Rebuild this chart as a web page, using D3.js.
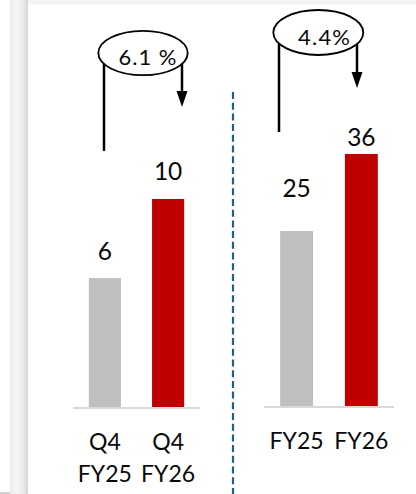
<!DOCTYPE html>
<html>
<head>
<meta charset="utf-8">
<script src="https://cdn.jsdelivr.net/npm/d3@7"></script>
<style>
  html, body { margin: 0; padding: 0; background: #ffffff; }
  svg { display: block; }
  text { font-family: Lato, "Open Sans", sans-serif; fill: #0a0a0a; }
</style>
</head>
<body>
<svg id="chart" width="416" height="494"></svg>
<script>
// ---------- data ----------
const quarterCategories = [["Q4", "FY25"], ["Q4", "FY26"]];
const quarterValues = [6.2, 10.0];
const quarterGrowth = "6.1 %";

const yearCategories = [["FY25"], ["FY26"]];
const yearValues = [25, 36];
const yearGrowth = "4.4%";

const barColors = ["#bfbfbf", "#c00000"];

// ---------- layout ----------
const W = 416, H = 494;
const svg = d3.select("#chart");
const fmt = d3.format(".0f");

// frame decorations
const defs = svg.append("defs");
const g = defs.append("linearGradient").attr("id", "strip").attr("x1", "0").attr("x2", "1");
g.append("stop").attr("offset", "0").attr("stop-color", "#ececec");
g.append("stop").attr("offset", "0.35").attr("stop-color", "#f6f6f6");
g.append("stop").attr("offset", "0.75").attr("stop-color", "#e9e9e9");
g.append("stop").attr("offset", "1").attr("stop-color", "#d6d6d6");
svg.append("rect").attr("x", 28).attr("y", 0).attr("width", W - 28).attr("height", 4.5).attr("fill", "#f4f4f2");
svg.append("rect").attr("x", 10).attr("y", 0).attr("width", 18).attr("height", H).attr("fill", "url(#strip)");
svg.append("rect").attr("x", 0).attr("y", 492).attr("width", 10).attr("height", 2).attr("fill", "#d0d0d0");

// divider
svg.append("line")
  .attr("x1", 233).attr("x2", 233).attr("y1", 92).attr("y2", H)
  .attr("stroke", "#22607f").attr("stroke-width", 2.2)
  .attr("stroke-dasharray", "7,3.7");

const panels = [
  {
    cats: quarterCategories, values: quarterValues, growth: quarterGrowth,
    x: [73, 200], base: 407, yMax: 10, yTop: 199,
    labelDy: [18, 19],
    catY: 450,
    ell: { cx: 143, cy: 53, rx: 44.7, ry: 22.2 },
    textPos: { x: 147.5, y: 65, len: 58 },
    lineL: { x: 104, y2: 151 }, lineR: { x: 182, tip: 107 }
  },
  {
    cats: yearCategories, values: yearValues, growth: yearGrowth,
    x: [264, 394], base: 406, yMax: 36, yTop: 154,
    labelDy: [34, 8],
    catY: 449,
    ell: { cx: 318.3, cy: 32.5, rx: 45, ry: 22.5 },
    textPos: { x: 324, y: 45, len: 52 },
    lineL: { x: 279, y2: 132 }, lineR: { x: 357, tip: 88 }
  }
];

panels.forEach(p => {
  const keys = p.cats.map(c => c.join(" "));
  const x = d3.scaleBand().domain(keys).range(p.x).paddingInner(0.492).paddingOuter(0.25);
  const y = d3.scaleLinear().domain([0, p.yMax]).range([p.base, p.yTop]);
  const gp = svg.append("g");

  // bars
  gp.selectAll("rect.bar").data(p.values).join("rect")
    .attr("class", "bar")
    .attr("x", (d, i) => x(keys[i]))
    .attr("width", x.bandwidth())
    .attr("y", d => y(d))
    .attr("height", d => y(0) - y(d))
    .attr("fill", (d, i) => barColors[i]);

  // baseline
  gp.append("line")
    .attr("x1", p.x[0]).attr("x2", p.x[1])
    .attr("y1", y(0) + 1).attr("y2", y(0) + 1)
    .attr("stroke", "#d9d9d9").attr("stroke-width", 2);

  // value labels
  gp.selectAll("text.val").data(p.values).join("text")
    .attr("class", "val")
    .attr("x", (d, i) => x(keys[i]) + x.bandwidth() / 2)
    .attr("y", (d, i) => y(d) - p.labelDy[i])
    .attr("text-anchor", "middle")
    .attr("font-size", 24.5)
    .text(d => fmt(d));

  // category labels
  p.cats.forEach((c, i) => {
    const t = gp.append("text")
      .attr("text-anchor", "middle")
      .attr("font-size", 23)
      .attr("x", x(keys[i]) + x.bandwidth() / 2)
      .attr("y", p.catY);
    c.forEach((line, j) => {
      t.append("tspan")
        .attr("x", x(keys[i]) + x.bandwidth() / 2)
        .attr("dy", j === 0 ? 0 : 32)
        .text(line);
    });
  });

  // growth annotation
  const e = p.ell;
  const edgeY = xx => e.cy + e.ry * Math.sqrt(Math.max(0, 1 - Math.pow((xx - e.cx) / e.rx, 2)));
  gp.append("line")
    .attr("x1", p.lineL.x).attr("x2", p.lineL.x)
    .attr("y1", edgeY(p.lineL.x)).attr("y2", p.lineL.y2)
    .attr("stroke", "#000").attr("stroke-width", 2.5);
  gp.append("line")
    .attr("x1", p.lineR.x).attr("x2", p.lineR.x)
    .attr("y1", edgeY(p.lineR.x) - 1).attr("y2", p.lineR.tip - 14)
    .attr("stroke", "#000").attr("stroke-width", 2.5);
  gp.append("path")
    .attr("d", `M${p.lineR.x - 5.5},${p.lineR.tip - 16} L${p.lineR.x + 5.5},${p.lineR.tip - 16} L${p.lineR.x},${p.lineR.tip} Z`)
    .attr("fill", "#000");
  gp.append("ellipse")
    .attr("cx", e.cx).attr("cy", e.cy).attr("rx", e.rx).attr("ry", e.ry)
    .attr("fill", "#fff").attr("stroke", "#000").attr("stroke-width", 1.8);
  gp.append("text")
    .attr("x", p.textPos.x).attr("y", p.textPos.y)
    .attr("text-anchor", "middle")
    .attr("font-size", 22)
    .attr("textLength", p.textPos.len)
    .attr("lengthAdjust", "spacing")
    .text(p.growth);
});
</script>
</body>
</html>
